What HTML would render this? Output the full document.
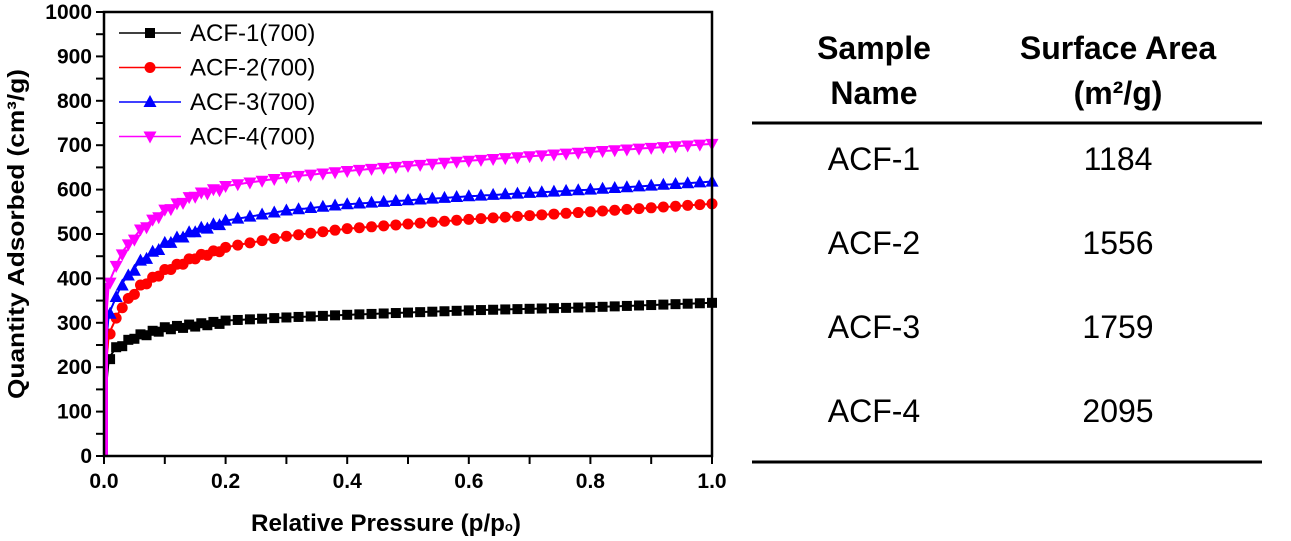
<!DOCTYPE html>
<html><head><meta charset="utf-8"><style>
body{margin:0;background:#fff;width:1291px;height:541px;overflow:hidden}
svg{position:absolute;left:0;top:0}
</style></head><body>
<svg id="s" width="1291" height="541" xmlns="http://www.w3.org/2000/svg" font-family="Liberation Sans, sans-serif">
<g id="plot"></g>
<rect x="104" y="12" width="608" height="444" fill="none" stroke="#000" stroke-width="2.5"/>
<g font-weight="bold" font-size="21" text-anchor="end" id="yl"></g>
<g font-weight="bold" font-size="21" text-anchor="middle" id="xl"></g>
<text x="386" y="531" font-size="24" font-weight="bold" text-anchor="middle" textLength="270" lengthAdjust="spacingAndGlyphs">Relative Pressure (p/p<tspan font-size="13">o</tspan>)</text>
<text transform="translate(24,234) rotate(-90)" font-size="23" font-weight="bold" text-anchor="middle" textLength="330" lengthAdjust="spacingAndGlyphs">Quantity Adsorbed (cm³/g)</text>
<g id="leg" font-size="24"></g>
<g font-family="Liberation Sans, Noto Sans CJK KR, sans-serif" font-size="32" text-anchor="middle">
<text x="874" y="59" font-weight="bold">Sample</text>
<text x="874" y="104" font-weight="bold">Name</text>
<text x="1118" y="59" font-weight="bold">Surface Area</text>
<text x="1118" y="104" font-weight="bold">(m²/g)</text>
<line x1="752" y1="123" x2="1262" y2="123" stroke="#000" stroke-width="3"/>
<text x="874" y="170">ACF-1</text><text x="1118" y="170">1184</text>
<text x="874" y="254">ACF-2</text><text x="1118" y="254">1556</text>
<text x="874" y="338">ACF-3</text><text x="1118" y="338">1759</text>
<text x="874" y="422">ACF-4</text><text x="1118" y="422">2095</text>
<line x1="752" y1="462" x2="1262" y2="462" stroke="#000" stroke-width="3"/>
</g>
</svg>
<script>
const NS="http://www.w3.org/2000/svg";
function el(p,t,a,txt){const e=document.createElementNS(NS,t);for(const k in a)e.setAttribute(k,a[k]);if(txt!==undefined)e.textContent=txt;p.appendChild(e);return e;}
const X=v=>104+v*608, Y=v=>456-v*0.444;
const yl=document.getElementById('yl'),xl=document.getElementById('xl'),plot=document.getElementById('plot');
for(let v=0;v<=1000;v+=50){el(plot,'line',{x1:96,x2:104,y1:Y(v),y2:Y(v),stroke:'#000','stroke-width':2});if(v%100==0)el(yl,'text',{x:92,y:Y(v)+7},v);}
for(let i=0;i<=10;i++){const v=i/10;el(plot,'line',{x1:X(v),x2:X(v),y1:456,y2:464,stroke:'#000','stroke-width':2});if(i%2==0)el(xl,'text',{x:X(v),y:488},v.toFixed(1));}
const S=[
{c:'#000',m:'sq',pts:[[0,0],[0.003,150],[0.008,220],[0.02,245],[0.05,270],[0.1,290],[0.2,305],[0.3,312],[0.4,318],[0.6,328],[0.8,335],[1,345]]},
{c:'#f00',m:'ci',pts:[[0,0],[0.003,200],[0.008,275],[0.03,340],[0.06,385],[0.1,420],[0.15,450],[0.2,470],[0.3,495],[0.4,512],[0.6,533],[0.8,550],[1,568]]},
{c:'#00f',m:'tu',pts:[[0,0],[0.003,250],[0.008,320],[0.03,390],[0.06,440],[0.1,480],[0.15,510],[0.2,530],[0.3,553],[0.4,567],[0.6,585],[0.8,600],[1,618]]},
{c:'#f0f',m:'td',pts:[[0,0],[0.003,300],[0.008,390],[0.03,460],[0.06,510],[0.1,555],[0.15,590],[0.2,608],[0.3,628],[0.4,642],[0.6,665],[0.8,685],[1,703]]}];
function interp(p,x){for(let i=1;i<p.length;i++)if(x<=p[i][0]){const a=p[i-1],b=p[i];return a[1]+(b[1]-a[1])*(x-a[0])/(b[0]-a[0]);}return p[p.length-1][1];}
function mark(g,m,x,y,c){if(m=='sq')el(g,'rect',{x:x-5,y:y-5,width:10,height:10,fill:c});else if(m=='ci')el(g,'circle',{cx:x,cy:y,r:5.5,fill:c});else if(m=='tu')el(g,'polygon',{points:`${x},${y-7} ${x-6.5},${y+5} ${x+6.5},${y+5}`,fill:c});else el(g,'polygon',{points:`${x},${y+7} ${x-6.5},${y-5} ${x+6.5},${y-5}`,fill:c});}
S.forEach(s=>{let d='';for(let i=0;i<=400;i++){const x=Math.pow(i/400,2);d+=(i?'L':'M')+X(x).toFixed(1)+','+Y(interp(s.pts,x)).toFixed(1);}
el(plot,'path',{d:d,fill:'none',stroke:s.c,'stroke-width':2});
el(plot,'line',{x1:X(0.004),x2:X(0.004),y1:Y(0),y2:Y(s.pts[2][1]),stroke:s.c,'stroke-width':3});
for(let x=0.02;x<=1.001;x+=0.02){mark(plot,s.m,X(x),Y(interp(s.pts,x)),s.c);}
for(let x=0.01;x<=0.2;x+=0.02){mark(plot,s.m,X(x),Y(interp(s.pts,x)-6),s.c);}
});
const leg=document.getElementById('leg');
['ACF-1(700)','ACF-2(700)','ACF-3(700)','ACF-4(700)'].forEach((t,i)=>{const y=33+i*34.5;el(leg,'line',{x1:119,x2:181,y1:y,y2:y,stroke:S[i].c,'stroke-width':1.5});mark(leg,S[i].m,150,y,S[i].c);el(leg,'text',{x:190,y:y+8},t);});
</script>
</body></html>
